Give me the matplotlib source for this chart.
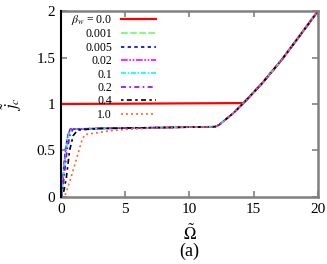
import numpy as np
import matplotlib

matplotlib.use("Agg")
import matplotlib.pyplot as plt

plt.rcParams["font.family"] = ["Liberation Serif", "DejaVu Serif"]
plt.rcParams["mathtext.fontset"] = "stix"

# shared high-frequency part (plateau + rise)
tail_omega = [3.0, 6.0, 9.0, 12.0, 12.3, 12.6, 13.4, 14.2, 15.5, 16.0, 17.2, 18.5, 20.0]
tail_j = [0.737, 0.743, 0.749, 0.756, 0.775, 0.81, 0.90, 1.01, 1.20, 1.28, 1.48, 1.72, 2.0]

beta_labels = [r"$\beta_w$ = 0.0", "0.001", "0.005", "0.02", "0.1", "0.2", "0.4", "1.0"]

# low-frequency part of each curve
omega_b0 = [0.0, 14.2, 15.5, 16.0, 17.2, 18.5, 20.0]
j_b0 = [1.0, 1.01, 1.20, 1.28, 1.48, 1.72, 2.0]

omega_b0001 = [0.0, 0.1, 0.33, 0.55, 0.72]
j_b0001 = [0.0, 0.12, 0.5, 0.68, 0.73]
omega_b0005 = [0.0, 0.1, 0.34, 0.56, 0.74]
j_b0005 = [0.0, 0.12, 0.5, 0.68, 0.73]
omega_b002 = [0.0, 0.11, 0.36, 0.58, 0.76]
j_b002 = [0.0, 0.12, 0.5, 0.68, 0.73]
omega_b01 = [0.0, 0.12, 0.40, 0.62, 0.82]
j_b01 = [0.0, 0.12, 0.5, 0.68, 0.73]
omega_b02 = [0.0, 0.15, 0.47, 0.72, 0.95]
j_b02 = [0.0, 0.1, 0.5, 0.68, 0.73]
omega_b04 = [0.0, 0.2, 0.41, 0.67, 0.95, 1.3]
j_b04 = [0.0, 0.05, 0.2, 0.5, 0.66, 0.72]
omega_b10 = [0.0, 0.29, 0.67, 1.19, 1.63, 1.84, 2.8, 3.7, 5.1, 6.9]
j_b10 = [0.0, 0.01, 0.16, 0.40, 0.61, 0.67, 0.69, 0.71, 0.728, 0.74]

colors = ["#ff0000", "#66ff66", "#0000cc", "#ff00ff", "#00ffff", "#9900ee", "#000000", "#ff6633"]
styles = ["-", (0, (4, 1.5)), (0, (2, 2)), (0, (4, 1, 1, 1, 1, 1)), (0, (3, 1, 1, 1)),
          (0, (3, 2, 1, 2)), (0, (1.5, 2, 3, 2)), (0, (1.2, 1.8))]


def join(head_o, head_j, start):
    o = list(head_o) + [x for x in tail_omega if x >= start]
    j = list(head_j) + [y for x, y in zip(tail_omega, tail_j) if x >= start]
    return o, j


curves = [(omega_b0, j_b0)]
for ho, hj in [(omega_b0001, j_b0001), (omega_b0005, j_b0005), (omega_b002, j_b002),
               (omega_b01, j_b01), (omega_b02, j_b02), (omega_b04, j_b04)]:
    curves.append(join(ho, hj, 3.0))
curves.append(join(omega_b10, j_b10, 9.0))

fig = plt.figure(figsize=(3.27, 2.64), dpi=100)
ax = fig.add_axes([0.1865, 0.2538, 0.786, 0.7045])

for (o, j), lab, c, ls in zip(curves, beta_labels, colors, styles):
    lw = 1.6 if lab.startswith("$") else 1.2
    ax.plot(o, j, color=c, linestyle=ls, linewidth=lw, label=lab)

ax.set_xlim(0, 20)
ax.set_ylim(0, 2)
ax.set_xticks([0, 5, 10, 15, 20])
ax.set_yticks([0, 0.5, 1, 1.5, 2])
ax.set_yticklabels(["0", "0.5", "1", "1.5", "2"])
ax.tick_params(direction="in", top=True, right=True, length=4, width=1.2,
               labelsize=11, colors="#808080", labelcolor="black", pad=4)
for t in ax.yaxis.get_major_ticks():
    t.tick1line.set_color("black")
for side in ["top", "bottom", "right"]:
    ax.spines[side].set_color("#808080")
    ax.spines[side].set_linewidth(1.8)
ax.spines["left"].set_color("black")
ax.spines["left"].set_linewidth(1.5)
ax.spines["left"].set_zorder(5)

ax.set_xlabel(r"$\tilde{\Omega}$", fontsize=12, labelpad=6)
ax.set_ylabel(r"$\tilde{j}_c$", fontsize=12, labelpad=9)

leg = ax.legend(loc="upper right", bbox_to_anchor=(0.368, 0.99), frameon=False,
                markerfirst=False, fontsize=8.5, handlelength=2.9, handletextpad=0.8,
                labelspacing=0.12, borderpad=0, borderaxespad=0)

fig.text(0.58, 0.03, "(a)", fontsize=13, ha="center")

fig.savefig("out.png", dpi=100)
